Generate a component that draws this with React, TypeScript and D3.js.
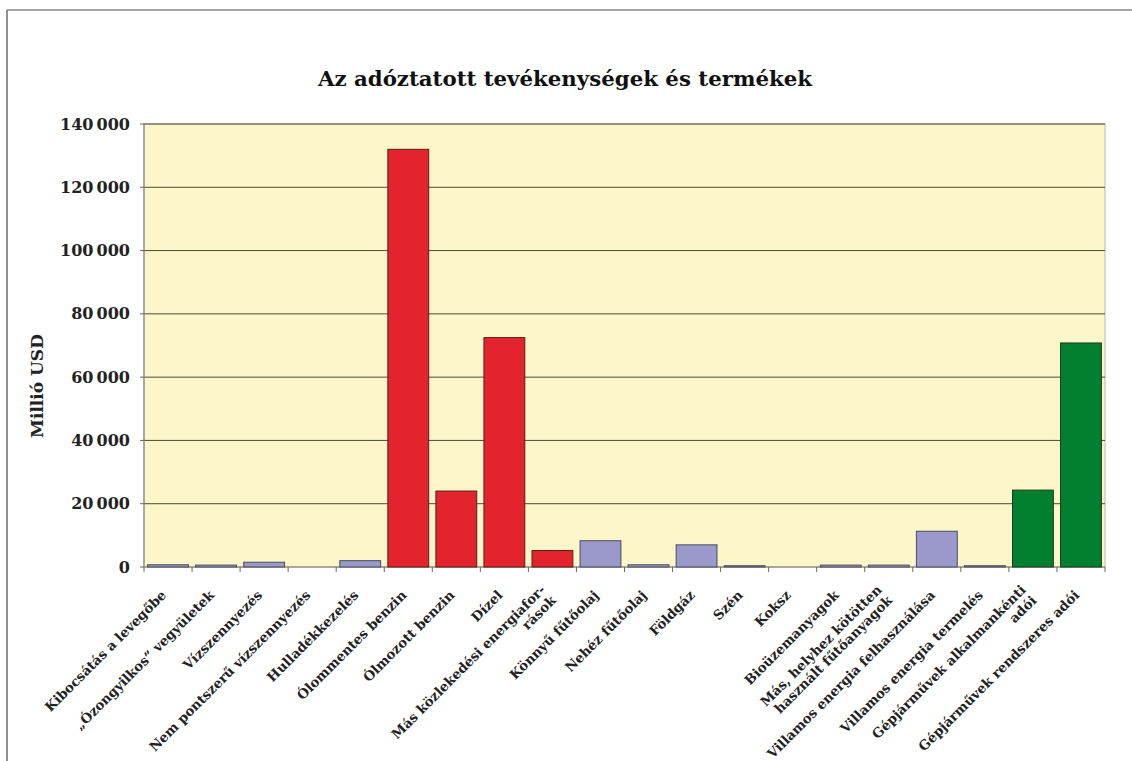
import React from "react";
import * as d3 from "d3";

const title = "Az adóztatott tevékenységek és termékek";
const yAxisTitle = "Millió USD";

const categories = [
  "Kibocsátás a levegőbe",
  "„Ózongyilkos” vegyületek",
  "Vízszennyezés",
  "Nem pontszerű vízszennyezés",
  "Hulladékkezelés",
  "Ólommentes benzin",
  "Ólmozott benzin",
  "Dízel",
  "Más közlekedési energiafor-\nrások",
  "Könnyű fűtőolaj",
  "Nehéz fűtőolaj",
  "Földgáz",
  "Szén",
  "Koksz",
  "Bioüzemanyagok",
  "Más, helyhez kötötten\nhasznált fűtőanyagok",
  "Villamos energia felhasználása",
  "Villamos energia termelés",
  "Gépjárművek alkalmankénti\nadói",
  "Gépjárművek rendszeres adói",
];

const values = [
  700, 600, 1500, 0, 2000, 132000, 24000, 72500, 5200, 8300,
  700, 7000, 400, 0, 600, 600, 11300, 400, 24300, 70800,
];

const groups = [
  "other", "other", "other", "other", "other",
  "transport", "transport", "transport", "transport",
  "other", "other", "other", "other", "other", "other", "other", "other", "other",
  "vehicle", "vehicle",
];

const yTicks = [0, 20000, 40000, 60000, 80000, 100000, 120000, 140000];

const fills: Record<string, string> = {
  other: "#9b99cc",
  transport: "#e3242c",
  vehicle: "#00802f",
};
const strokes: Record<string, string> = {
  other: "#4a4a5a",
  transport: "#5a1a1a",
  vehicle: "#1e3a22",
};

const W = 1132;
const H = 761;
const plot = { left: 144, right: 1105, top: 124, bottom: 567 };
const FONT = "'DejaVu Serif', 'Liberation Serif', serif";

export default function App() {
  const x = d3
    .scaleBand<string>()
    .domain(categories)
    .range([plot.left, plot.right])
    .paddingInner(0.15)
    .paddingOuter(0.075);
  const y = d3.scaleLinear().domain([0, 140000]).range([plot.bottom, plot.top]);
  const step = x.step();
  const fmt = (v: number) => d3.format(",")(v).replace(/,/g, "\u2009");

  return (
    <svg
      width={W}
      height={H}
      style={{ position: "absolute", left: 0, top: 0, background: "#fff" }}
      fontFamily={FONT}
    >
      {/* outer frame */}
      <line x1={7} y1={10} x2={W} y2={10} stroke="#8a8a8a" strokeWidth={1.5} />
      <line x1={7} y1={10} x2={7} y2={H} stroke="#6a6a6a" strokeWidth={1.5} />

      <text
        x={565}
        y={86}
        textAnchor="middle"
        fontSize={21.3}
        fontWeight="bold"
        fill="#111"
      >
        {title}
      </text>

      {/* plot background */}
      <rect
        x={plot.left}
        y={plot.top}
        width={plot.right - plot.left}
        height={plot.bottom - plot.top}
        fill="#fdf6c9"
        stroke="#b8b8a8"
        strokeWidth={1}
      />

      {/* gridlines */}
      {yTicks.map((t) => (
        <line
          key={"g" + t}
          x1={plot.left}
          x2={plot.right}
          y1={y(t)}
          y2={y(t)}
          stroke={t === 0 ? "#777" : "#4a4a3a"}
          strokeWidth={1}
        />
      ))}

      {/* y axis */}
      <line x1={plot.left} x2={plot.left} y1={plot.top} y2={plot.bottom} stroke="#888" strokeWidth={1.2} />
      {yTicks.map((t) => (
        <g key={"t" + t}>
          <line x1={plot.left - 4} x2={plot.left} y1={y(t)} y2={y(t)} stroke="#666" />
          <text
            x={130}
            y={y(t)}
            dy="0.35em"
            textAnchor="end"
            fontSize={16}
            fontWeight="bold"
            fill="#222"
          >
            {fmt(t)}
          </text>
        </g>
      ))}

      <text
        transform={`translate(43, 386) rotate(-90)`}
        textAnchor="middle"
        fontSize={17}
        fontWeight="bold"
        fill="#222"
      >
        {yAxisTitle}
      </text>

      {/* bars */}
      {categories.map((c, i) => {
        const v = values[i];
        if (v <= 0) return null;
        const x0 = x(c)!;
        const y0 = y(v);
        return (
          <rect
            key={"b" + i}
            x={x0}
            y={y0}
            width={x.bandwidth()}
            height={y(0) - y0}
            fill={fills[groups[i]]}
            stroke={strokes[groups[i]]}
            strokeWidth={1}
          />
        );
      })}

      {/* x axis ticks */}
      {d3.range(categories.length + 1).map((i) => {
        const tx = plot.left + i * step;
        return (
          <line key={"xt" + i} x1={tx} x2={tx} y1={plot.bottom} y2={plot.bottom + 5} stroke="#666" />
        );
      })}

      {/* x labels */}
      {categories.map((c, i) => {
        const cx = x(c)! + x.bandwidth() / 2;
        const lines = c.split("\n");
        const lh = 15;
        return (
          <text
            key={"l" + i}
            transform={`translate(${cx - 1}, 596) rotate(-45)`}
            textAnchor="end"
            fontSize={13.3}
            fontWeight="bold"
            fill="#222"
          >
            {lines.map((ln, k) => (
              <tspan key={k} x={0} dy={k === 0 ? -((lines.length - 1) * lh) / 2 : lh}>
                {ln}
              </tspan>
            ))}
          </text>
        );
      })}
    </svg>
  );
}
